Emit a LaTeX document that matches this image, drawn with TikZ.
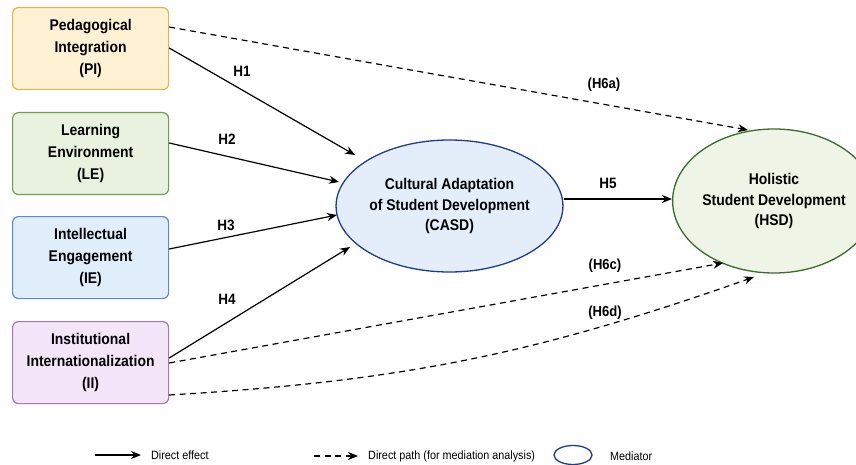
\documentclass[tikz,border=0pt]{standalone}
\usepackage{fontspec}
\setmainfont{Liberation Sans}[FakeStretch=0.9]
\usetikzlibrary{arrows.meta,shapes.geometric}
\definecolor{piF}{HTML}{FFF2D4}\definecolor{piD}{HTML}{E0B84A}
\definecolor{leF}{HTML}{E8F2DF}\definecolor{leD}{HTML}{6FA050}
\definecolor{ieF}{HTML}{E0EDFB}\definecolor{ieD}{HTML}{5F8CC8}
\definecolor{iiF}{HTML}{F4E6F8}\definecolor{iiD}{HTML}{A07AB8}
\definecolor{caF}{HTML}{E4EEFA}\definecolor{caD}{HTML}{1F3C8C}
\definecolor{hsF}{HTML}{EEF4E6}\definecolor{hsD}{HTML}{3C6A2C}
\tikzset{
  cbox/.style={draw, line width=1.2pt, rounded corners=6pt, minimum width=156pt, minimum height=82pt, inner sep=0pt, align=center, font=\bfseries\fontsize{15.5}{22}\selectfont, anchor=north west},
  ell/.style={ellipse, draw, line width=1.3pt, inner sep=0pt, align=center, font=\bfseries\fontsize{15.5}{20.5}\selectfont},
  arr/.style={-{Stealth[length=10pt,width=8pt]}, line width=1.2pt},
  darr/.style={arr, dash pattern=on 6pt off 4.5pt},
  hl/.style={font=\bfseries\fontsize{15}{17}\selectfont, inner sep=0pt},
  hp/.style={font=\bfseries\fontsize{14.5}{16}\selectfont, inner sep=0pt},
  lg/.style={font=\fontsize{12}{14}\selectfont, anchor=west, inner sep=0pt}
}
\begin{document}
\begin{tikzpicture}[x=1pt,y=-1pt]
\useasboundingbox (0,0) rectangle (856,465);
\node[cbox, fill=piF, draw=piD] (pi) at (12,7) {Pedagogical\\Integration\\(PI)};
\node[cbox, fill=leF, draw=leD] (le) at (12,112) {Learning\\Environment\\(LE)};
\node[cbox, fill=ieF, draw=ieD] (ie) at (12,216) {Intellectual\\Engagement\\(IE)};
\node[cbox, fill=iiF, draw=iiD] (ii) at (12,321) {Institutional\\Internationalization\\(II)};
\node[ell, fill=caF, draw=caD, minimum width=221pt, minimum height=132pt] (casd) at (449.5,206) {Cultural Adaptation\\of Student Development\\(CASD)};
\node[ell, fill=hsF, draw=hsD, minimum width=182pt, minimum height=144pt] (hsd) at (774,201) {Holistic\\Student Development\\(HSD)};
% end points near the ellipses
\coordinate (c1) at (355,155);
\coordinate (c2) at (339,182);
\coordinate (c3) at (337,215);
\coordinate (c4) at (350,247);
\coordinate (ha) at (748,130);
\coordinate (hc) at (723,263);
\coordinate (hd) at (754,277);
% solid paths
\draw[arr] (pi.east |- 0,48) -- (c1);
\draw[arr] (le.east |- 0,143) -- (c2);
\draw[arr] (ie.east |- 0,249) -- (c3);
\draw[arr] (ii.east |- 0,358) -- (c4);
\draw[arr] (casd.east |- 0,199) -- (hsd.west |- 0,199);
\node[hl] (h1) at (242,71) {H1};
\node[hl] (h2) at (227,139) {H2};
\node[hl] (h3) at (226,225) {H3};
\node[hl] (h4) at (227,299) {H4};
\node[hl] (h5) at (608,183) {H5};
% dashed paths
\draw[darr] (pi.east |- 0,27) -- (ha);
\draw[darr] (ii.east |- 0,363) -- (hc);
\draw[darr] (ii.east |- 0,395) to[bend right=8] (hd);
\node[hp] (h6a) at (604,85) {(H6a)};
\node[hp] (h6c) at (605,266) {(H6c)};
\node[hp] (h6d) at (605,313) {(H6d)};
% legend
\coordinate (l1a) at (95,455); \coordinate (l1b) at (141,455);
\draw[arr] (l1a) -- (l1b);
\node[lg] (t1) at (151,455) {Direct effect};
\coordinate (l2a) at (314,456); \coordinate (l2b) at (358,456);
\draw[darr] (l2a) -- (l2b);
\node[lg] (t2) at (368,456) {Direct path (for mediation analysis)};
\node[ellipse, draw=caD, line width=1.3pt, minimum width=38pt, minimum height=19pt, inner sep=0pt] (lgm) at (573,455) {};
\node[lg] (t3) at (610,456) {Mediator};
\end{tikzpicture}
\end{document}
